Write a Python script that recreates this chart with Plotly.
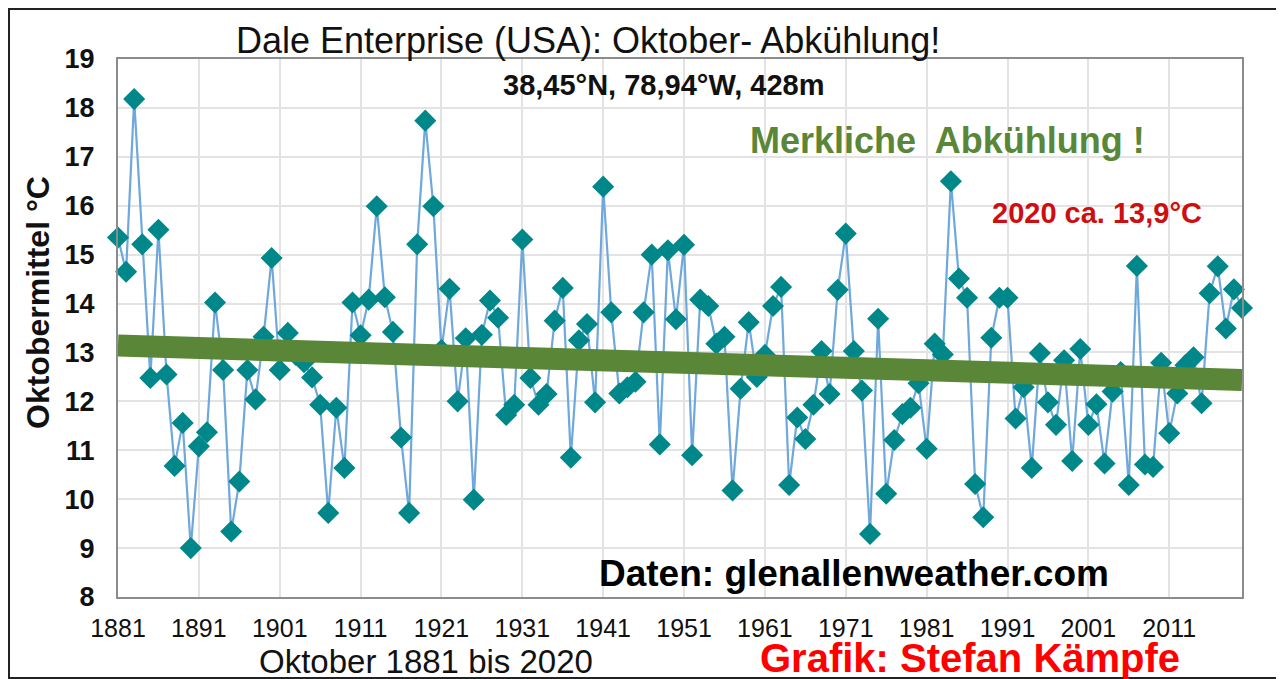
import numpy as np
import plotly.graph_objects as go

# ---------------- data ----------------
years = list(range(1881, 2021))
temps = [
    15.35, 14.65, 18.18, 15.21, 12.48, 15.51, 12.55, 10.68, 11.56, 9.00,   # 1881-1890
    11.08, 11.37, 14.02, 12.64, 9.34, 10.36, 12.64, 12.04, 13.32, 14.93,   # 1891-1900
    12.64, 13.40, 12.95, 12.80, 12.49, 11.93, 9.72, 11.87, 10.64, 14.02,   # 1901-1910
    13.35, 14.08, 15.99, 14.13, 13.42, 11.26, 9.72, 15.21, 17.74, 15.99,   # 1911-1920
    13.05, 14.30, 12.00, 13.29, 9.99, 13.36, 14.06, 13.71, 11.72, 11.93,   # 1921-1930
    15.31, 12.48, 11.93, 12.15, 13.65, 14.32, 10.85, 13.25, 13.58, 11.98,  # 1931-1940
    16.39, 13.82, 12.16, 12.29, 12.40, 13.82, 15.00, 11.12, 15.09, 13.68,  # 1941-1950
    15.20, 10.90, 14.08, 13.95, 13.18, 13.32, 10.18, 12.26, 13.62, 12.50,  # 1951-1960
    12.95, 13.95, 14.34, 10.29, 11.67, 11.23, 11.93, 13.03, 12.15, 14.28,  # 1961-1970
    15.43, 13.03, 12.22, 9.29, 13.69, 10.11, 11.21, 11.74, 11.87, 12.37,   # 1971-1980
    11.03, 13.18, 12.96, 16.50, 14.51, 14.12, 10.31, 9.63, 13.30, 14.12,   # 1981-1990
    14.12, 11.65, 12.29, 10.64, 12.99, 11.98, 11.52, 12.84, 10.78, 13.07,  # 1991-2000
    11.52, 11.94, 10.73, 12.20, 12.60, 10.29, 14.77, 10.71, 10.66, 12.79,  # 2001-2010
    11.35, 12.16, 12.74, 12.90, 11.96, 14.21, 14.76, 13.49, 14.29, 13.91,  # 2011-2020
]
x_tick_years = [1881, 1891, 1901, 1911, 1921, 1931, 1941, 1951, 1961, 1971, 1981, 1991, 2001, 2011]
x_tick_labels = [str(y) for y in x_tick_years]
y_ticks = list(range(8, 20))

title_text = "Dale Enterprise (USA): Oktober- Abkühlung!"
coord_text = "38,45°N, 78,94°W, 428m"
trend_text = "Merkliche  Abkühlung !"
last_text = "2020 ca. 13,9°C"
source_text = "Daten: glenallenweather.com"
xaxis_text = "Oktober 1881 bis 2020"
author_text = "Grafik: Stefan Kämpfe"
yaxis_text = "Oktobermittel °C"

# linear trend
coef = np.polyfit(years, temps, 1)
trend_x = [years[0], years[-1]]
trend_y = [float(np.polyval(coef, v)) for v in trend_x]

# ---------------- layout geometry (page pixels) ----------------
OFF = 8                      # default page body margin
PAGE_W, PAGE_H = 1284, 679
W, H = PAGE_W - OFF, PAGE_H - OFF
L, R, T, B = 118, 1242, 59, 597   # plot area in page pixels
PW, PH = R - L, B - T


def px(x):
    return (x - L) / PW


def py(y):
    return (B - y) / PH


FONT = "Liberation Sans, Arial, sans-serif"

fig = go.Figure()
fig.add_trace(go.Scatter(
    x=years, y=temps, mode="lines+markers",
    line=dict(color="#6FA8DC", width=2.2),
    marker=dict(symbol="diamond", size=17, color="#00878A"),
    cliponaxis=False, showlegend=False,
))
fig.add_trace(go.Scatter(
    x=trend_x, y=trend_y, mode="lines",
    line=dict(color="#5A8638", width=22),
    showlegend=False,
))

fig.update_layout(
    width=W, height=H,
    margin=dict(l=L - OFF, r=PAGE_W - R, t=T - OFF, b=PAGE_H - B),
    paper_bgcolor="white", plot_bgcolor="white",
    font=dict(family=FONT, color="black"),
    xaxis=dict(
        range=[1881, 2020], tickmode="array",
        tickvals=x_tick_years, ticktext=x_tick_labels,
        showgrid=True, gridcolor="#E3E3E3", gridwidth=1.5,
        showline=True, linecolor="#8C8C8C", linewidth=2, mirror=True,
        ticks="", tickfont=dict(size=25, family=FONT, color="#111"),
        ticklabelstandoff=8, zeroline=False,
    ),
    yaxis=dict(
        range=[8, 19], tickmode="array", tickvals=y_ticks,
        showgrid=True, gridcolor="#E3E3E3", gridwidth=1.5,
        showline=True, linecolor="#8C8C8C", linewidth=2, mirror=True,
        ticks="", tickfont=dict(size=27, family=FONT, color="#111", weight="bold"),
        ticklabelstandoff=16, zeroline=False,
    ),
)

ann = [
    dict(text=title_text, x=px(588), y=py(40), size=36, color="#111", bold=False),
    dict(text=coord_text, x=px(663), y=py(85), size=29, color="#111", bold=True),
    dict(text=trend_text, x=px(947), y=py(140), size=36, color="#5A8638", bold=True),
    dict(text=last_text, x=px(1097), y=py(213), size=29, color="#CC1010", bold=True),
    dict(text=source_text, x=px(854), y=py(573), size=37, color="#000", bold=True),
    dict(text=xaxis_text, x=px(426), y=py(661), size=33, color="#111", bold=False),
    dict(text=author_text, x=px(970), y=py(658), size=40, color="#FF0000", bold=True),
]
for a in ann:
    fig.add_annotation(
        text=a["text"], x=a["x"], y=a["y"], xref="paper", yref="paper",
        xanchor="center", yanchor="middle", showarrow=False,
        font=dict(size=a["size"], color=a["color"], family=FONT,
                  weight="bold" if a["bold"] else "normal"),
    )
fig.add_annotation(
    text=yaxis_text, x=px(38), y=py(302), xref="paper", yref="paper",
    xanchor="center", yanchor="middle", showarrow=False, textangle=-90,
    font=dict(size=32, color="#111", family=FONT, weight="bold"),
)

# outer frame
fig.add_shape(type="rect", xref="paper", yref="paper",
              x0=px(OFF + 1), x1=px(1279), y0=py(PAGE_H - 1), y1=py(OFF + 1),
              line=dict(color="#222", width=2), layer="below")

fig.write_html("out.html")
